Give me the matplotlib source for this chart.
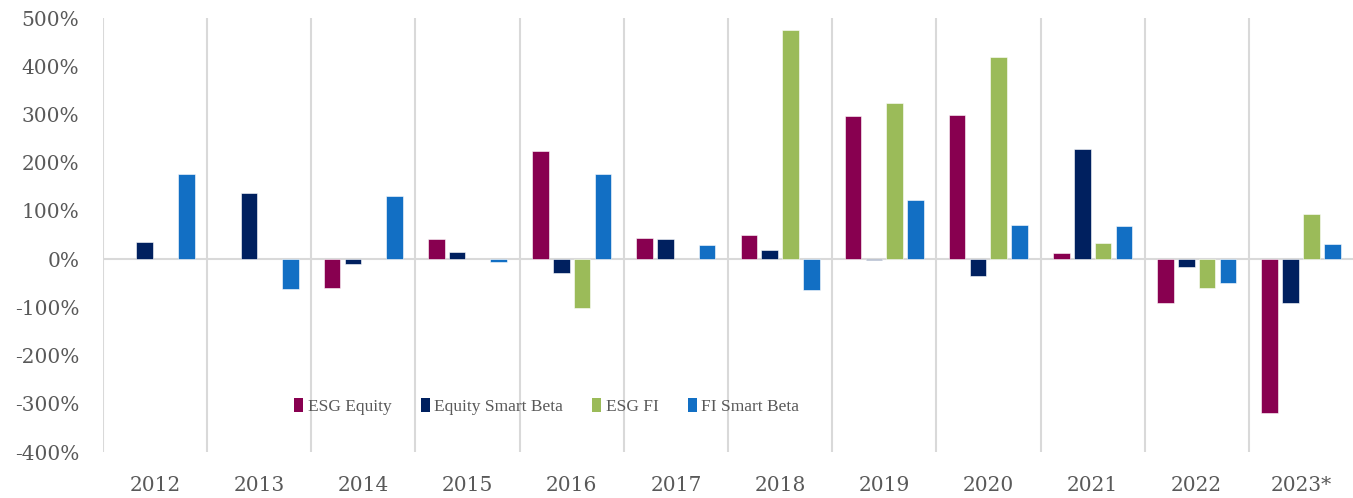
import matplotlib
matplotlib.use("Agg")
import matplotlib.pyplot as plt
import numpy as np

years = ["2012", "2013", "2014", "2015", "2016", "2017", "2018", "2019", "2020", "2021", "2022", "2023*"]
series_names = ["ESG Equity", "Equity Smart Beta", "ESG FI", "FI Smart Beta"]
nan = float("nan")
esg_equity = [nan, nan, -59, 42, 225, 44, 51, 297, 298, 12, -92, -320]
equity_smart_beta = [35, 137, -10, 14, -29, 42, 19, -2, -35, 229, -16, -91]
esg_fi = [nan, nan, nan, nan, -101, nan, 476, 323, 420, 34, -59, 94]
fi_smart_beta = [177, -61, 131, -5, 177, 29, -64, 122, 70, 68, -50, 31]
colors = ["#880050", "#00205F", "#9BBB59", "#126FC4"]

plt.rcParams['font.family'] = ['DejaVu Serif']
fig = plt.figure(figsize=(13.53, 4.98), dpi=100)
ax = fig.add_axes([103/1353, 46/498, 1250/1353, 434/498])

x = np.arange(len(years))
step = 0.2
width = 0.16
data = [esg_equity, equity_smart_beta, esg_fi, fi_smart_beta]
for i, (name, vals, c) in enumerate(zip(series_names, data, colors)):
    ax.bar(x + (i - 1.5) * step, vals, width=width, color=c, label=name, zorder=3,
           edgecolor='white', linewidth=0.4)

for i in range(len(years)):
    ax.axvline(i - 0.5, color="#d9d9d9", lw=1.5, zorder=1)
ax.axhline(0, color="#d9d9d9", lw=1.5, zorder=2)

ax.set_xlim(-0.5, len(years) - 0.5)
ax.set_ylim(-400, 500)
ax.set_yticks(np.arange(-400, 501, 100))
ax.set_yticklabels([f"{v}%" for v in range(-400, 501, 100)])
ax.set_xticks(x)
ax.set_xticklabels(years)
ax.tick_params(axis='both', length=0, labelsize=14.5, colors="#595959", pad=17)
for s in ax.spines.values():
    s.set_visible(False)

leg = ax.legend(ncol=4, loc='center', bbox_to_anchor=(0.355, 0.104), frameon=False,
                prop={'family': 'Liberation Serif', 'size': 12.5},
                handlelength=0.52, handleheight=0.85, handletextpad=0.24, columnspacing=1.7,
                borderpad=0.2)
for t in leg.get_texts():
    t.set_color("#595959")
for h in leg.legend_handles:
    h.set_linewidth(0)

fig.savefig("out.png", dpi=100)
